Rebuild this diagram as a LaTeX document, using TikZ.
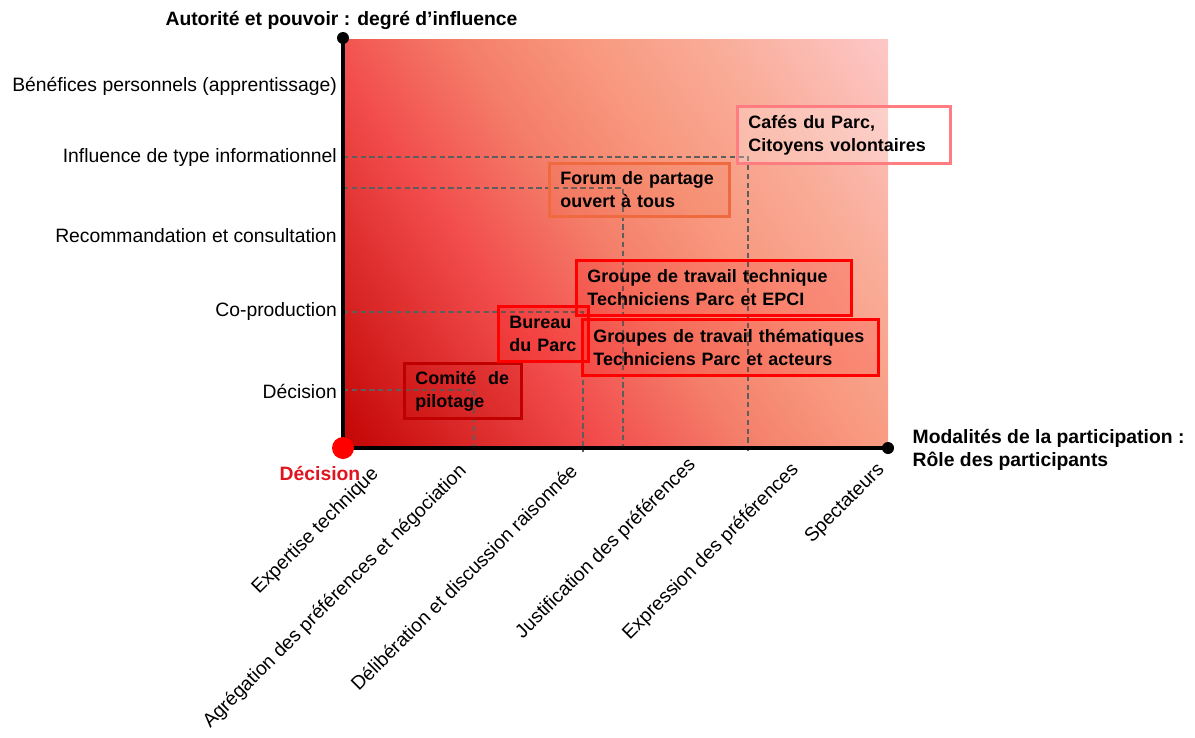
\documentclass[tikz,border=0pt]{standalone}
\usepackage{fontspec}
\setmainfont{Liberation Sans}
\usepackage{tikz}
\usetikzlibrary{calc, positioning, backgrounds}

\definecolor{grad0}{HTML}{C00000}
\definecolor{grad1}{HTML}{F24C4C}
\definecolor{grad2}{HTML}{F47E6A}
\definecolor{grad3}{HTML}{F8987E}
\definecolor{grad4}{HTML}{F9AC98}
\definecolor{grad5}{HTML}{FDC8C8}
\definecolor{darkred}{HTML}{C00000}
\definecolor{brightred}{HTML}{FF0000}
\definecolor{forumorange}{HTML}{F06A40}
\definecolor{cafepink}{HTML}{FF7C80}
\definecolor{decisionred}{HTML}{E0141E}
\definecolor{guidegray}{HTML}{5E5E5E}

\pgfdeclarehorizontalshading{influence}{100bp}{color(0bp)=(grad0); color(14bp)=(grad0);
  color(37bp)=(grad1); color(49bp)=(grad2); color(59bp)=(grad3); color(70bp)=(grad4);
  color(85bp)=(grad5); color(100bp)=(grad5)}

\tikzset{
  axisline/.style={line width=2.3pt, black},
  guide/.style={guidegray, line width=1.1pt, dash pattern=on 3pt off 2pt},
  ylabel/.style={anchor=east},
  xlabel/.style={anchor=east, rotate=45},
  partbox/.style={draw=#1, line width=1.7pt, fill=#1, fill opacity=0.15, text opacity=1,
    anchor=north west, align=left, inner xsep=0.22cm,
    font=\fontsize{10.2}{13}\selectfont\bfseries},
}

\begin{document}
\begin{tikzpicture}[font=\fontsize{11}{13}\selectfont]

    \useasboundingbox (-6.86,-5.78) rectangle (17.04,8.96);

    % fond en degrade
    \shade[shading=influence, shading angle=35] (0,0) rectangle (10.9,8.16);

    \coordinate (O) at (0,0);
    \coordinate (ytop) at (0,8.2);
    \coordinate (xend) at (10.9,0);

    % niveaux d'influence
    \foreach \y/\txt [count=\i] in {7.24/Bénéfices personnels (apprentissage),
        5.8/Influence de type informationnel, 4.24/Recommandation et consultation,
        2.74/Co-production, 1.14/Décision} {
        \node[ylabel] (ylab\i) at (0,\y) {\txt};
    };

    % modalites de participation
    \foreach \x/\y/\txt [count=\i] in {0.74/-0.38/Expertise technique,
        2.5/-0.32/Agrégation des préférences et négociation,
        4.7/-0.30/Délibération et discussion raisonnée,
        7.08/-0.20/Justification des préférences,
        9.14/-0.30/Expression des préférences, 10.86/-0.30/Spectateurs} {
        \node[xlabel] (xlab\i) at (\x,\y) {\txt};
    };

    % lignes de rappel
    \coordinate (lvl1) at (0,1.16);  \coordinate (foot1) at (2.62,-0.08);
    \coordinate (lvl2) at (0,2.72);  \coordinate (foot2) at (4.8,-0.08);
    \coordinate (lvl3) at (0,5.2);   \coordinate (foot3) at (5.6,-0.08);
    \coordinate (lvl4) at (0,5.82);  \coordinate (foot4) at (8.1,-0.08);
    \foreach \i in {1,2,3,4} {
        \draw[guide] (lvl\i) -| (foot\i);
    };

    \node[partbox=darkred, text width=1.9cm, minimum height=1.1cm] at (1.2,1.72) (comite) {Comité~~de\\pilotage};
    \node[partbox=brightred, text width=1.36cm, minimum height=1.1cm] at (3.08,2.86) (bureau) {Bureau\\du Parc};
    \node[partbox=brightred, text width=5.06cm, minimum height=1.1cm] at (4.64,3.78) (gtech) {Groupe de travail technique\\Techniciens Parc et EPCI};
    \node[partbox=brightred, text width=5.48cm, minimum height=1.12cm] at (4.76,2.6) (gtheme) {Groupes de travail thématiques\\Techniciens Parc et acteurs};
    \node[partbox=forumorange, text width=3.16cm, minimum height=1.06cm] at (4.1,5.72) (forum) {Forum de partage\\ouvert à tous};
    \node[partbox=cafepink, fill=white, fill opacity=0.25, text width=3.82cm, minimum height=1.14cm] at (7.86,6.86) (cafes) {Cafés du Parc,\\Citoyens volontaires};

    % axes
    \draw[axisline] (ytop) -- (O) -- (xend);
    \fill (ytop) circle (0.12);
    \fill (xend) circle (0.12);
    \fill[brightred] (O) circle (0.22);

    \node[font=\fontsize{11}{13}\selectfont\bfseries] at (-0.03,8.56) (ytitle) {Autorité et pouvoir : degré d’influence};
    \node[font=\fontsize{11}{13}\selectfont\bfseries, anchor=west, align=left] at (11.27,-0.03) (xtitle) {Modalités de la participation :\\Rôle des participants};
    \node[font=\fontsize{11}{13}\selectfont\bfseries, text=decisionred] at (-0.46,-0.5) (decision) {Décision};

\end{tikzpicture}
\end{document}
